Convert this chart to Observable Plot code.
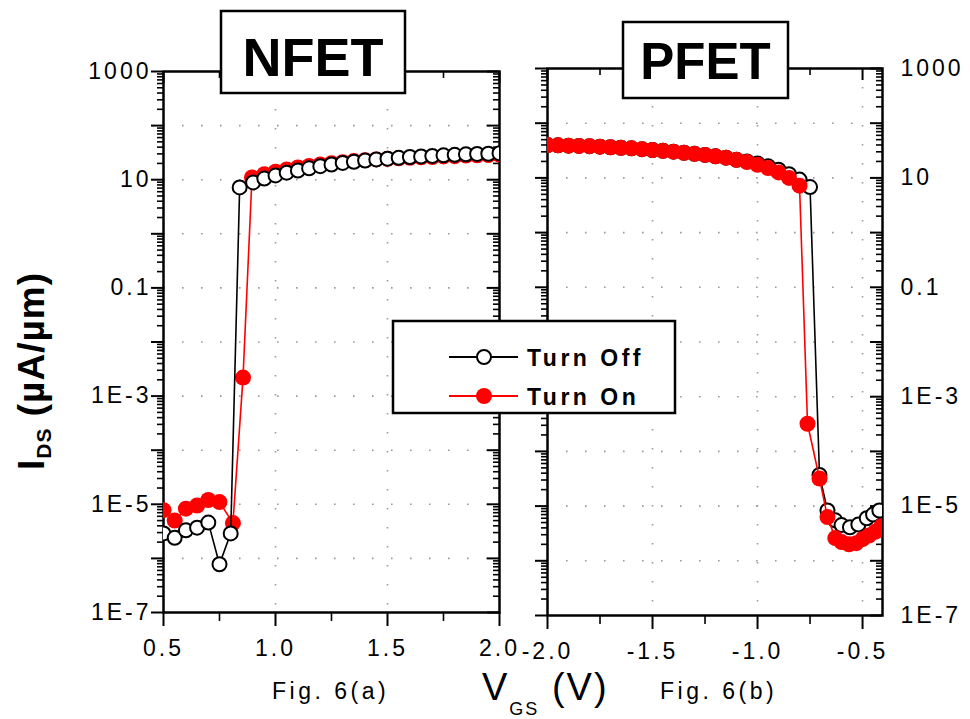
<!DOCTYPE html>
<html><head><meta charset="utf-8">
<script src="https://cdn.jsdelivr.net/npm/d3@7"></script>
<script src="https://cdn.jsdelivr.net/npm/@observablehq/plot@0.6"></script>
<style>
body{margin:0;background:#fff;}
#wrap{position:relative;width:970px;height:719px;overflow:hidden;background:#fff;}
#wrap > svg{position:absolute;overflow:visible;}
</style></head><body><div id="wrap"></div>
<script>
// ---------- tick values & labels ----------
const yDecades = [1e-7,1e-6,1e-5,1e-4,1e-3,1e-2,1e-1,1,10,100,1000];
const yLabelValues = [1000, 10, 0.1, 1e-3, 1e-5, 1e-7];
const yLabelTexts = ["1000","10","0.1","1E-3","1E-5","1E-7"];
const nfetXTicks = [0.5, 1.0, 1.5, 2.0];
const nfetXLabels = ["0.5","1.0","1.5","2.0"];
const nfetXMinor = [0.75, 1.25, 1.75];
const nfetXGrid = [1.0, 1.5];
const pfetXTicks = [-2.0, -1.5, -1.0, -0.5];
const pfetXLabels = ["-2.0","-1.5","-1.0","-0.5"];
const pfetXMinor = [-1.75, -1.25, -0.75];
const pfetXGrid = [-1.5, -1.0, -0.5];

// ---------- data (I_DS in uA/um vs V_GS in V) ----------
const nfetOffV = [0.5,0.55,0.6,0.65,0.7,0.75,0.8,0.84,0.9,0.95,1.0,1.05,1.1,1.15,1.2,1.25,1.3,1.35,1.4,1.45,1.5,1.55,1.6,1.65,1.7,1.75,1.8,1.85,1.9,1.95,2.0];
const nfetOffI = [2.9e-6,2.4e-6,3.3e-6,3.7e-6,4.6e-6,7.8e-7,2.9e-6,7.2,8.9,10.5,12.0,13.5,14.8,16.2,17.8,19.1,20.4,21.4,22.6,23.7,24.5,25.4,26.3,26.9,27.5,28.2,28.8,29.5,29.9,30.2,30.9];
const nfetOnV = [0.5,0.55,0.6,0.65,0.7,0.75,0.81,0.855,0.895,0.95,1.0,1.05,1.1,1.15,1.2,1.25,1.3,1.35,1.4,1.45,1.5,1.55,1.6,1.65,1.7,1.75,1.8,1.85,1.9,1.95,2.0];
const nfetOnI = [7.8e-6,5.0e-6,8.3e-6,9.5e-6,1.2e-5,1.1e-5,4.5e-6,2.2e-3,11,12.6,14.1,15.5,16.8,18.0,19.1,20.2,21.1,22.1,22.9,23.7,24.3,24.8,25.4,26.0,26.3,26.9,27.2,27.9,28.2,28.5,29.2];

const pfetOffV = [-2.0,-1.95,-1.9,-1.85,-1.8,-1.75,-1.7,-1.65,-1.6,-1.55,-1.5,-1.45,-1.4,-1.35,-1.3,-1.25,-1.2,-1.15,-1.1,-1.05,-1.0,-0.95,-0.9,-0.85,-0.8,-0.75,-0.705,-0.667,-0.63,-0.6,-0.56,-0.52,-0.48,-0.45,-0.42];
const pfetOffI = [39.8,39.4,38.9,38.5,38.0,37.2,36.3,35.5,34.7,33.5,32.4,31.3,30.2,28.8,27.5,26.3,24.8,23.4,21.4,20.0,18.4,16.4,14.1,11.7,9.3,6.8,3.7e-5,8.3e-6,5.5e-6,4.5e-6,4.1e-6,4.6e-6,6.0e-6,7.0e-6,8.3e-6];
const pfetOnV = [-2.0,-1.95,-1.9,-1.85,-1.8,-1.75,-1.7,-1.65,-1.6,-1.55,-1.5,-1.45,-1.4,-1.35,-1.3,-1.25,-1.2,-1.15,-1.1,-1.05,-1.0,-0.95,-0.9,-0.85,-0.8,-0.762,-0.705,-0.667,-0.63,-0.6,-0.565,-0.53,-0.5,-0.47,-0.44,-0.41];
const pfetOnI = [39.8,39.4,38.9,38.5,38.0,37.2,36.3,35.5,34.7,33.5,32.4,31.3,30.2,28.8,27.5,26.3,24.8,23.4,21.4,19.5,17.4,15.1,12.6,10.0,7.2,3.2e-4,3.2e-5,6.3e-6,2.6e-6,2.2e-6,2.0e-6,2.1e-6,2.5e-6,2.9e-6,3.4e-6,4.3e-6];

const seriesNames = ["Turn Off", "Turn On"];
const panelNames = ["NFET", "PFET"];

// ---------- build ----------
const toRows = (V, I) => V.map((v, i) => ({v, i: I[i]}));
const yMinor = [];
for (const d of yDecades.slice(0, -1)) for (let k = 2; k <= 9; k++) yMinor.push(d * k);
const fmtY = d => { const j = yLabelValues.findIndex(v => Math.abs(Math.log10(v) - Math.log10(d)) < 1e-6); return j >= 0 ? yLabelTexts[j] : ""; };
const fmtFrom = (vals, labs) => d => { const j = vals.findIndex(v => Math.abs(v - d) < 1e-9); return j >= 0 ? labs[j] : ""; };

const FONT = "'Liberation Sans', Arial, sans-serif";
const gridStyle = {stroke: "#9a9a9a", strokeOpacity: 1, strokeWidth: 1.6, strokeDasharray: "1.6,17.4"};

function panel({W, H, mT, mB, mL, mR, xDomain, xTicks, xLabels, xMinor, xGrid, labelSide, series}) {
  const fw = W - mL - mR, fh = H - mT - mB;
  const marks = [
    Plot.gridY(yDecades.slice(1, -1), gridStyle),
    Plot.gridX(xGrid, gridStyle),
    Plot.axisX(xTicks, {anchor: "bottom", tickSize: 14, tickPadding: 13, tickFormat: fmtFrom(xTicks, xLabels), label: null, strokeWidth: 2, fontSize: 23}),
    Plot.axisX(xMinor, {anchor: "bottom", tickSize: 9, tickFormat: () => "", label: null, strokeWidth: 1.6}),
    Plot.tickX(xTicks, {x: d => d, insetBottom: fh - 12, strokeWidth: 2}),
    Plot.tickX(xMinor, {x: d => d, insetBottom: fh - 7, strokeWidth: 1.6}),
    Plot.axisY(yDecades, {anchor: "left", tickSize: 12, tickPadding: 0, tickFormat: labelSide === "left" ? fmtY : () => "", label: null, strokeWidth: 2, fontSize: 23}),
    Plot.axisY(yMinor, {anchor: "left", tickSize: 6, tickFormat: () => "", label: null, strokeWidth: 1.6}),
    Plot.tickY(yDecades, {y: d => d, insetLeft: fw - 12, strokeWidth: 2}),
    Plot.tickY(yMinor, {y: d => d, insetLeft: fw - 6, strokeWidth: 1.6}),
  ];
  if (labelSide === "right") marks.push(Plot.axisY(yDecades, {anchor: "right", tickSize: 0, tickPadding: 18, tickFormat: fmtY, label: null, fontSize: 23}));
  marks.push(Plot.frame({stroke: "black", strokeWidth: 2.5}));
  for (const s of series) {
    marks.push(Plot.line(s.rows, {x: "v", y: "i", stroke: s.color, strokeWidth: 1.6, clip: true}));
    marks.push(Plot.dot(s.rows, {x: "v", y: "i", r: s.open ? 7 : 8, fill: s.open ? "white" : s.color, stroke: s.open ? "black" : "none", strokeWidth: 2, clip: true}));
  }
  return Plot.plot({
    width: W, height: H, marginTop: mT, marginBottom: mB, marginLeft: mL, marginRight: mR,
    x: {domain: xDomain}, y: {type: "log", domain: [1e-7, 1000]},
    style: {fontFamily: FONT, fontSize: "23px", letterSpacing: "3px", color: "black", background: "transparent", overflow: "visible"},
    marks
  });
}

const wrap = document.getElementById("wrap");
const off = {color: "black", open: true};
const on = {color: "#ff0000", open: false};

const left = panel({W: 520, H: 680, mT: 71, mB: 68, mL: 163, mR: 21, xDomain: [0.5, 2.0], xTicks: nfetXTicks, xLabels: nfetXLabels, xMinor: nfetXMinor, xGrid: nfetXGrid, labelSide: "left",
  series: [{...on, rows: toRows(nfetOnV, nfetOnI)}, {...off, rows: toRows(nfetOffV, nfetOffI)}]});
left.style.left = "0px"; left.style.top = "0px";
wrap.appendChild(left);

const right = panel({W: 470, H: 680, mT: 68, mB: 65, mL: 47, mR: 88, xDomain: [-2.0, -0.405], xTicks: pfetXTicks, xLabels: pfetXLabels, xMinor: pfetXMinor, xGrid: pfetXGrid, labelSide: "right",
  series: [{...off, rows: toRows(pfetOffV, pfetOffI)}, {...on, rows: toRows(pfetOnV, pfetOnI)}]});
right.style.left = "500px"; right.style.top = "0px";
wrap.appendChild(right);

// ---------- overlay: panel titles, legend, axis titles ----------
const ov = d3.select(wrap).append("svg").attr("width", 970).attr("height", 719)
  .style("left", "0px").style("top", "0px").style("font-family", FONT);

const boxes = [{x: 221, y: 11, w: 184, h: 82, size: 54, base: 76}, {x: 623, y: 22, w: 165, h: 76, size: 51, base: 79}];
boxes.forEach((b, k) => {
  ov.append("rect").attr("x", b.x).attr("y", b.y).attr("width", b.w).attr("height", b.h).attr("fill", "white").attr("stroke", "black").attr("stroke-width", 2.5);
  ov.append("text").attr("x", b.x + b.w / 2).attr("y", b.base).attr("text-anchor", "middle").attr("font-weight", "bold").attr("font-size", b.size).text(panelNames[k]);
});

// legend
ov.append("rect").attr("x", 393).attr("y", 321).attr("width", 282).attr("height", 92).attr("fill", "white").attr("stroke", "black").attr("stroke-width", 2.5);
[{...off, y: 357}, {...on, y: 396}].forEach((s, k) => {
  ov.append("line").attr("x1", 449).attr("x2", 518).attr("y1", s.y).attr("y2", s.y).attr("stroke", s.color).attr("stroke-width", 1.8);
  ov.append("circle").attr("cx", 484).attr("cy", s.y).attr("r", s.open ? 7 : 8).attr("fill", s.open ? "white" : s.color).attr("stroke", s.open ? "black" : "none").attr("stroke-width", 2);
  ov.append("text").attr("x", 527).attr("y", s.y + 8.5).attr("font-size", 23).attr("font-weight", "bold").attr("letter-spacing", "3.5px").text(seriesNames[k]);
});

// y-axis title
const yt = ov.append("text").attr("transform", "translate(44,371) rotate(-90)").attr("text-anchor", "middle").attr("font-weight", "bold").attr("font-size", 37).attr("letter-spacing", "1px");
yt.append("tspan").text("I");
yt.append("tspan").attr("font-size", 21).attr("dy", 7).text("DS");
yt.append("tspan").attr("dy", -7).text(" (µA/µm)");

// x-axis title
const xt = ov.append("text").attr("x", 482).attr("y", 700).attr("font-size", 38).attr("letter-spacing", "2px");
xt.append("tspan").text("V");
xt.append("tspan").attr("font-size", 18).attr("dy", 15).text("GS");
xt.append("tspan").attr("dy", -15).text(" (V)");

ov.append("text").attr("x", 272).attr("y", 699).attr("font-size", 23).attr("letter-spacing", "3.5px").text("Fig. 6(a)");
ov.append("text").attr("x", 660).attr("y", 699).attr("font-size", 23).attr("letter-spacing", "3.5px").text("Fig. 6(b)");
</script></body></html>
